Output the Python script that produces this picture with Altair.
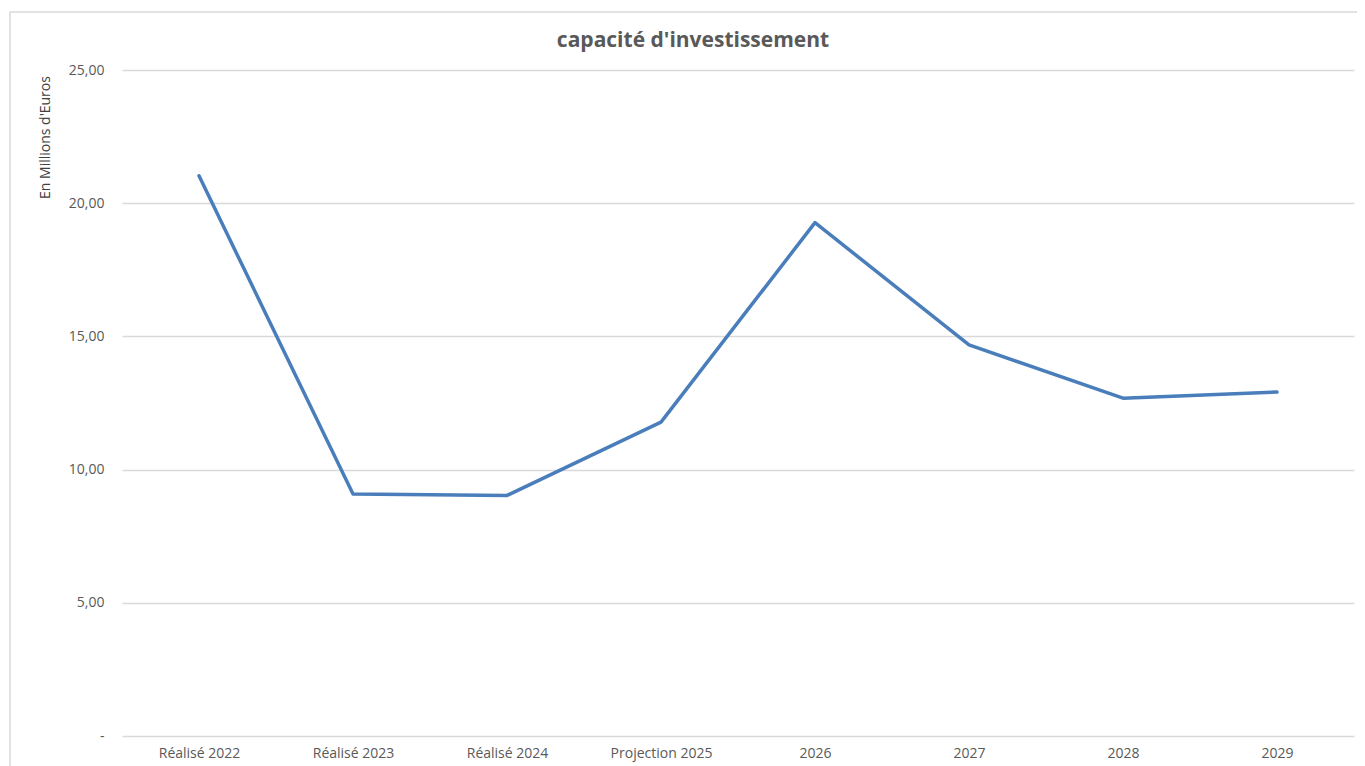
import altair as alt
import pandas as pd

categories = ["Réalisé 2022", "Réalisé 2023", "Réalisé 2024", "Projection 2025",
              "2026", "2027", "2028", "2029"]
values = [21.03, 9.08, 9.03, 11.78, 19.27, 14.68, 12.68, 12.91]
y_ticks = [0, 5, 10, 15, 20, 25]

df = pd.DataFrame({"cat": categories, "val": values})

FONT = "Open Sans"
GREY = "#595959"

line = alt.Chart(df).mark_line(
    color="#4a7ebb", strokeWidth=3.5, strokeJoin="round", strokeCap="round"
).encode(
    x=alt.X("cat:N", sort=categories,
            scale=alt.Scale(type="point", padding=0.5),
            axis=alt.Axis(title=None, labelAngle=0, domain=False, ticks=False,
                          grid=False, labelPadding=10, labelFontSize=14,
                          labelColor=GREY, labelFont=FONT)),
    y=alt.Y("val:Q", scale=alt.Scale(domain=[0, 25], nice=False),
            axis=alt.Axis(values=y_ticks, domain=False, ticks=False,
                          gridColor="#d9d9d9", gridWidth=1.3,
                          labelExpr="datum.value == 0 ? '-' : replace(format(datum.value, '.2f'), '.', ',')",
                          labelPadding=18, labelFontSize=14, labelColor=GREY,
                          labelFont=FONT,
                          title="En Millions d'Euros", titleFont=FONT,
                          titleFontSize=14, titleFontWeight="normal",
                          titleColor="#404040", titleAngle=-90,
                          titleX=-77, titleY=67, titleAlign="center",
                          titleBaseline="middle")),
)

border = alt.Chart(df).mark_rect(
    fill=None, stroke="#d9d9d9", strokeWidth=1.5, clip=False
).encode(
    x=alt.value(-112), x2=alt.value(1300), y=alt.value(-58), y2=alt.value(760)
).transform_filter("datum.cat == 'Réalisé 2022'")

chart = alt.layer(border, line).properties(
    width=1232, height=666,
    autosize=alt.AutoSizeParams(type="none"),
    padding={"left": 114, "top": 62, "right": 3, "bottom": 30},
    title=alt.TitleParams("capacité d'investissement", font=FONT, fontSize=21,
                          fontWeight="bold", color=GREY, anchor="middle",
                          dx=-45, dy=58, offset=18),
).configure_view(stroke=None)

chart.save("out.html", embed_options={"renderer": "svg", "actions": False})
